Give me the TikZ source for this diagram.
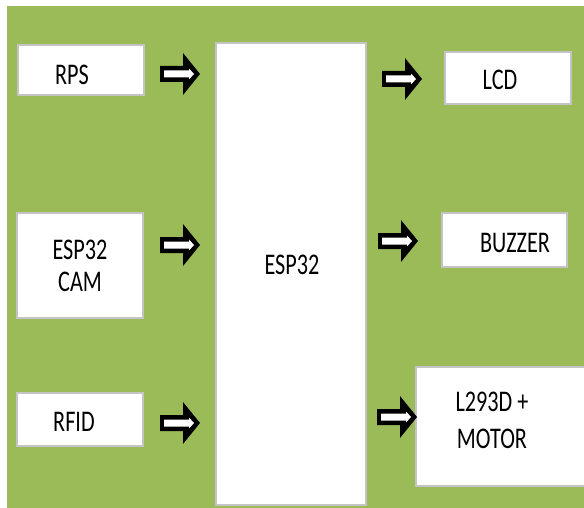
\documentclass[tikz,border=0pt]{standalone}
\usepackage{fontspec}
\setmainfont{Carlito}[FakeStretch=0.74]
\definecolor{bggreen}{HTML}{9BBB59}
\definecolor{boxgray}{HTML}{C4C4C4}
\begin{document}
\begin{tikzpicture}[x=1pt,y=-1pt,
  blk/.style={draw=boxgray,line width=1.2pt,fill=white,inner sep=0pt,anchor=center},
  lbl/.style={inner sep=0pt,anchor=center,font=\fontsize{30}{32}\selectfont},
  blockarrow/.pic={
    \fill[black] (0,-8) -- (23,-8) -- (23,-21) -- (40,0) -- (23,21) -- (23,8) -- (0,8) -- cycle;
    \fill[white] (4,-3.5) -- (29,-3.5) -- (29,-5.5) -- (34,0) -- (29,5.5) -- (29,3.5) -- (4,3.5) -- cycle;
  }]
\useasboundingbox (0,0) rectangle (584,508);
\clip (0,0) rectangle (584,508);
\fill[bggreen] (7,6) rectangle (590,515);
% boxes
\node[blk,minimum width=126pt,minimum height=50pt] (rps) at (81,70) {};
\node[blk,minimum width=126pt,minimum height=105pt] (cam) at (80,265.5) {};
\node[blk,minimum width=126pt,minimum height=53pt] (rfid) at (80,419.5) {};
\node[blk,minimum width=150pt,minimum height=462pt] (esp) at (291,274) {};
\node[blk,minimum width=126pt,minimum height=52pt] (lcd) at (508,78) {};
\node[blk,minimum width=125pt,minimum height=54pt] (buz) at (504.5,240) {};
\node[blk,minimum width=174pt,minimum height=119pt] (mot) at (503,426.5) {};
% labels
\node[lbl] (trps) at (72,75) {RPS};
\node[lbl,align=center,font=\fontsize{30}{32}\selectfont] (tcam) at (80,266) {ESP32\\CAM};
\node[lbl] (trfid) at (74,422) {RFID};
\node[lbl] (tesp) at (292,265) {ESP32};
\node[lbl] (tlcd) at (500,80) {LCD};
\node[lbl] (tbuz) at (515,243) {BUZZER};
\node[lbl,align=center,font=\fontsize{30}{37}\selectfont] (tmot) at (492,420) {L293D +\\ MOTOR};
% block arrows
\pic at (160,74) {blockarrow};
\pic at (160,245) {blockarrow};
\pic at (160,423) {blockarrow};
\pic at (382,79) {blockarrow};
\pic at (378,241) {blockarrow};
\pic at (377,417) {blockarrow};
\end{tikzpicture}
\end{document}
